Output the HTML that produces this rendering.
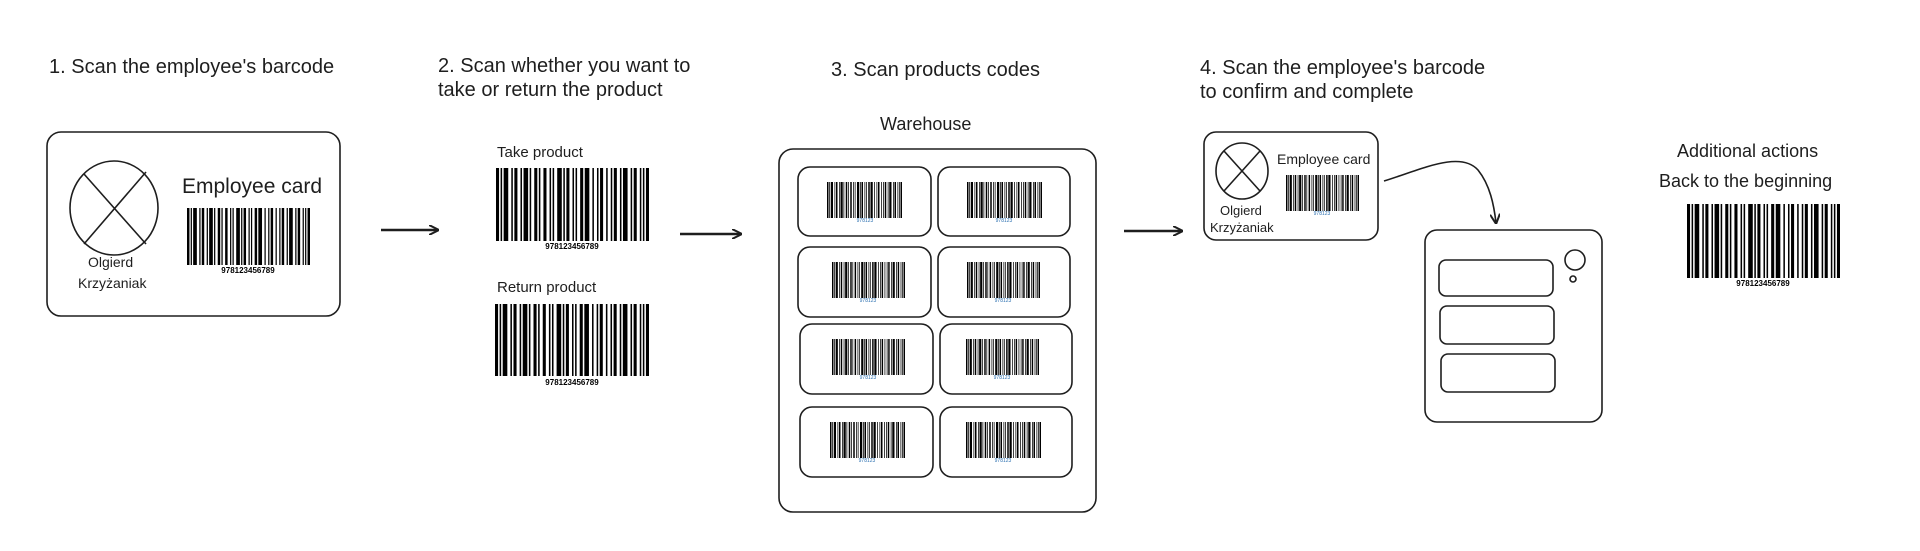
<!DOCTYPE html>
<html><head><meta charset="utf-8"><style>
html,body{margin:0;padding:0;background:#fff;}
body{width:1920px;height:551px;position:relative;overflow:hidden;font-family:"Liberation Sans",sans-serif;color:#1e1e1e;}
.t{position:absolute;white-space:nowrap;}
</style></head><body>
<svg width="1920" height="551" style="position:absolute;left:0;top:0" xmlns="http://www.w3.org/2000/svg">
<defs>
<symbol id="bc" viewBox="0 0 100 50" preserveAspectRatio="none">
<g fill="#000">
<rect x="0" y="0" width="2" height="50"/><rect x="3" y="0" width="1" height="50"/><rect x="5" y="0" width="3" height="50"/>
<rect x="10" y="0" width="1" height="50"/><rect x="12" y="0" width="2" height="50"/><rect x="16" y="0" width="1" height="50"/>
<rect x="18" y="0" width="3" height="50"/><rect x="22" y="0" width="1" height="50"/><rect x="25" y="0" width="2" height="50"/>
<rect x="28" y="0" width="1" height="50"/><rect x="31" y="0" width="2" height="50"/><rect x="35" y="0" width="1" height="50"/>
<rect x="37" y="0" width="1" height="50"/><rect x="40" y="0" width="3" height="50"/><rect x="44" y="0" width="1" height="50"/>
<rect x="46" y="0" width="2" height="50"/><rect x="50" y="0" width="1" height="50"/><rect x="52" y="0" width="1" height="50"/>
<rect x="55" y="0" width="2" height="50"/><rect x="58" y="0" width="3" height="50"/><rect x="63" y="0" width="1" height="50"/>
<rect x="66" y="0" width="1" height="50"/><rect x="68" y="0" width="2" height="50"/><rect x="72" y="0" width="1" height="50"/>
<rect x="75" y="0" width="1" height="50"/><rect x="77" y="0" width="2" height="50"/><rect x="81" y="0" width="1" height="50"/>
<rect x="83" y="0" width="3" height="50"/><rect x="88" y="0" width="1" height="50"/><rect x="90" y="0" width="2" height="50"/>
<rect x="94" y="0" width="1" height="50"/><rect x="96" y="0" width="1" height="50"/><rect x="98" y="0" width="2" height="50"/>
</g></symbol>
<marker id="ah" viewBox="0 0 10 10" refX="9" refY="5" markerWidth="10" markerHeight="10" orient="auto" markerUnits="userSpaceOnUse"><path d="M0,0 L10,5 L0,10" fill="none" stroke="#1e1e1e" stroke-width="2"/></marker>
</defs>
<g fill="none" stroke="#1e1e1e" stroke-width="1.6">
<!-- card 1 -->
<rect x="47" y="132" width="293" height="184" rx="14"/>
<ellipse cx="114" cy="208" rx="44" ry="47"/>
<line x1="84" y1="174" x2="146" y2="244"/><line x1="146" y1="172" x2="84" y2="244"/>
<!-- arrows -->
<line x1="381" y1="230" x2="438" y2="230" stroke-width="2.5" marker-end="url(#ah)"/>
<line x1="680" y1="234" x2="741" y2="234" stroke-width="2.5" marker-end="url(#ah)"/>
<line x1="1124" y1="231" x2="1182" y2="231" stroke-width="2.5" marker-end="url(#ah)"/>
<!-- warehouse -->
<rect x="779" y="149" width="317" height="363" rx="14"/>
<rect x="798" y="167" width="133" height="69" rx="12"/><rect x="938" y="167" width="132" height="69" rx="12"/>
<rect x="798" y="247" width="133" height="70" rx="12"/><rect x="938" y="247" width="132" height="70" rx="12"/>
<rect x="800" y="324" width="133" height="70" rx="12"/><rect x="940" y="324" width="132" height="70" rx="12"/>
<rect x="800" y="407" width="133" height="70" rx="12"/><rect x="940" y="407" width="132" height="70" rx="12"/>
<!-- small card -->
<rect x="1204" y="132" width="174" height="108" rx="12"/>
<ellipse cx="1242" cy="171" rx="26" ry="28"/>
<line x1="1224" y1="151" x2="1260" y2="191"/><line x1="1260" y1="151" x2="1224" y2="191"/>
<path d="M1384,181 C1420,170 1460,150 1478,170 C1490,185 1494,205 1496,223" marker-end="url(#ah)"/>
<!-- device -->
<rect x="1425" y="230" width="177" height="192" rx="12"/>
<rect x="1439" y="260" width="114" height="36" rx="7"/>
<rect x="1440" y="306" width="114" height="38" rx="7"/>
<rect x="1441" y="354" width="114" height="38" rx="7"/>
<circle cx="1575" cy="260" r="10"/><circle cx="1573" cy="279" r="3"/>
</g>
<!-- barcodes -->
<use href="#bc" x="187" y="208" width="123" height="57"/>
<use href="#bc" x="496" y="168" width="153" height="73"/>
<use href="#bc" x="495" y="304" width="154" height="72"/>
<use href="#bc" x="1687" y="204" width="153" height="74"/>
<use href="#bc" x="1286" y="175" width="73" height="36"/>
<use href="#bc" x="827" y="182" width="75" height="36"/><use href="#bc" x="967" y="182" width="75" height="36"/>
<use href="#bc" x="832" y="262" width="73" height="36"/><use href="#bc" x="967" y="262" width="73" height="36"/>
<use href="#bc" x="832" y="339" width="73" height="36"/><use href="#bc" x="966" y="339" width="73" height="36"/>
<use href="#bc" x="830" y="422" width="75" height="36"/><use href="#bc" x="966" y="422" width="75" height="36"/>
<g font-family="Liberation Sans Narrow, Liberation Sans, sans-serif" font-size="8" font-weight="bold" text-anchor="middle" fill="#000">
<text x="248" y="273">978123456789</text>
<text x="572" y="249">978123456789</text>
<text x="572" y="385">978123456789</text>
<text x="1763" y="286">978123456789</text>
</g>
<g font-family="Liberation Sans, sans-serif" font-size="5" text-anchor="middle" fill="#2a6fb0">
<text x="865" y="222">978123</text><text x="1004" y="222">978123</text>
<text x="868" y="302">978123</text><text x="1003" y="302">978123</text>
<text x="868" y="379">978123</text><text x="1002" y="379">978123</text>
<text x="867" y="462">978123</text><text x="1003" y="462">978123</text>
<text x="1322" y="215">978123</text>
</g>
</svg>
<div class="t" style="left:49px;top:56px;font-size:20px">1. Scan the employee's barcode</div>
<div class="t" style="left:438px;top:54px;font-size:20px;line-height:24px">2. Scan whether you want to<br>take or return the product</div>
<div class="t" style="left:831px;top:59px;font-size:20px">3. Scan products codes</div>
<div class="t" style="left:1200px;top:56px;font-size:20px;line-height:24px">4. Scan the employee's barcode<br>to confirm and complete</div>
<div class="t" style="left:880px;top:114px;font-size:18px">Warehouse</div>
<div class="t" style="left:182px;top:175px;font-size:21px">Employee card</div>
<div class="t" style="left:88px;top:254px;font-size:14px">Olgierd</div>
<div class="t" style="left:78px;top:275px;font-size:14px">Krzyżaniak</div>
<div class="t" style="left:497px;top:144px;font-size:15px">Take product</div>
<div class="t" style="left:497px;top:279px;font-size:15px">Return product</div>
<div class="t" style="left:1277px;top:151px;font-size:14px">Employee card</div>
<div class="t" style="left:1220px;top:203px;font-size:13px">Olgierd</div>
<div class="t" style="left:1210px;top:220px;font-size:13px">Krzyżaniak</div>
<div class="t" style="left:1677px;top:141px;font-size:18px">Additional actions</div>
<div class="t" style="left:1659px;top:171px;font-size:18px">Back to the beginning</div>
</body></html>
